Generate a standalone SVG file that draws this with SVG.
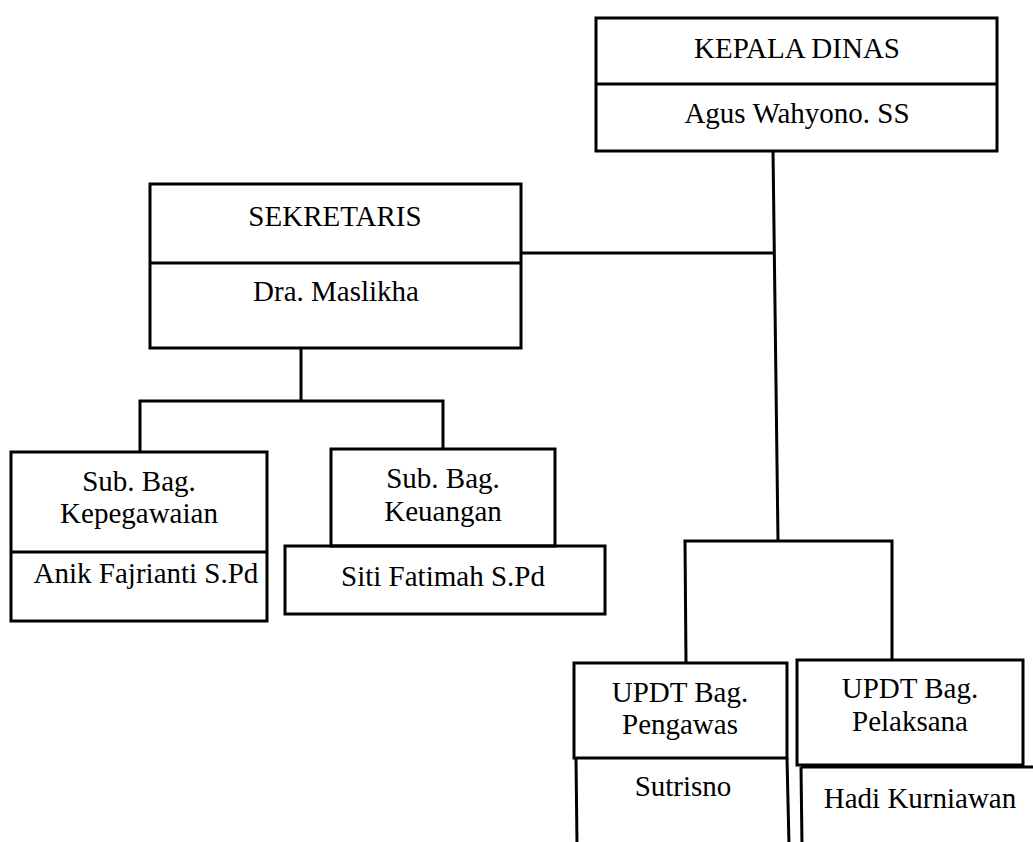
<svg xmlns="http://www.w3.org/2000/svg" width="1033" height="842" viewBox="0 0 1033 842">
<style>
.box{fill:none;stroke:#000;stroke-width:3}
.ln{fill:none;stroke:#000;stroke-width:3}
text{font-family:"Liberation Serif","Times New Roman",serif;font-size:29px;fill:#000;text-anchor:middle}
</style>
<rect width="1033" height="842" fill="#fff"/>
<g id="connectors">
<polyline class="ln" points="773,150 778,541"/>
<polyline class="ln" points="521,253 775,253"/>
<polyline class="ln" points="301,348 301,401"/>
<polyline class="ln" points="140,452 140,401 443,401 443,449"/>
<polyline class="ln" points="686,663 685,541 892,541 892,660"/>
</g>
<g id="kepala">
<rect class="box" x="596" y="18" width="401" height="133"/>
<line class="ln" x1="596" y1="84" x2="997" y2="84"/>
<text x="797" y="58">KEPALA DINAS</text>
<text x="797" y="123">Agus Wahyono. SS</text>
</g>
<g id="sekretaris">
<rect class="box" x="150" y="184" width="371" height="164"/>
<line class="ln" x1="150" y1="263" x2="521" y2="263"/>
<text x="335" y="226">SEKRETARIS</text>
<text x="336" y="301">Dra. Maslikha</text>
</g>
<g id="kepegawaian">
<rect class="box" x="11" y="452" width="256" height="169"/>
<line class="ln" x1="11" y1="552" x2="267" y2="552"/>
<text x="139" y="491">Sub. Bag.</text>
<text x="139" y="523">Kepegawaian</text>
<text x="146" y="583" font-size="26">Anik Fajrianti S.Pd</text>
</g>
<g id="keuangan">
<rect class="box" x="331" y="449" width="224" height="97"/>
<rect class="box" x="285" y="546" width="320" height="68"/>
<text x="443" y="488">Sub. Bag.</text>
<text x="443" y="521">Keuangan</text>
<text x="443" y="586">Siti Fatimah S.Pd</text>
</g>
<g id="pengawas">
<rect class="box" x="574" y="663" width="213" height="95"/>
<polyline class="ln" points="576,758 577,845"/>
<polyline class="ln" points="787,758 789,845"/>
<text x="680" y="702">UPDT Bag.</text>
<text x="680" y="734">Pengawas</text>
<text x="683" y="796">Sutrisno</text>
</g>
<g id="pelaksana">
<rect class="box" x="797" y="660" width="226" height="105"/>
<polyline class="ln" points="801,767 1040,767"/>
<polyline class="ln" points="801,767 802,845"/>
<text x="910" y="698">UPDT Bag.</text>
<text x="910" y="731">Pelaksana</text>
<text x="920" y="808">Hadi Kurniawan</text>
</g>
</svg>
